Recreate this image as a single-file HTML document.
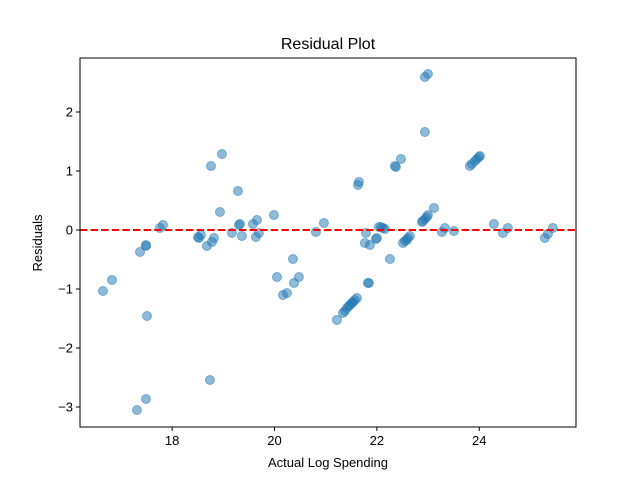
<!DOCTYPE html>
<html><head><meta charset="utf-8"><style>
body{margin:0;background:#fff;font-family:"Liberation Sans","DejaVu Sans",sans-serif}
</style></head><body>
<svg id="chart" width="640" height="480" xmlns="http://www.w3.org/2000/svg">
<rect width="640" height="480" fill="#fff"/>
<text x="328" y="49" text-anchor="middle" font-size="16">Residual Plot</text>
<g id="pts"></g>
<g id="axes"></g>
<text x="328" y="467" text-anchor="middle" font-size="13">Actual Log Spending</text>
<text transform="translate(42,243) rotate(-90)" text-anchor="middle" font-size="13">Residuals</text>
</svg>
<script>
const xTicks=[18,20,22,24];
const yTicks=[-3,-2,-1,0,1,2];
const pxPts=[[103,291],[112,280],[147,316],[140,252],[146,246],[146,245],[160,228],[163,225],[137,410],[146,399],[210,380],[198,237],[199,238],[201,235],[207,246],[212,242],[214,238],[211,166],[222,154],[220,212],[238,191],[232,233],[239,225],[240,224],[242,236],[253,224],[257,220],[256,237],[259,233],[274,215],[293,259],[277,277],[299,277],[294,283],[283,295],[287,293],[316,232],[324,223],[337,320],[343,313],[345,311],[347,308],[349,306],[350,305],[352,303],[353,302],[355,300],[357,298],[358,185],[359,182],[366,233],[365,243],[370,245],[376,239],[369,283],[368,283],[377,238],[379,227],[381,227],[383,228],[385,229],[390,259],[396,167],[395,166],[401,159],[403,243],[405,241],[407,240],[408,238],[410,236],[422,222],[423,221],[425,219],[427,217],[428,215],[434,208],[425,77],[428,74],[425,132],[442,232],[445,228],[454,231],[470,166],[472,164],[475,161],[477,159],[479,157],[480,156],[494,224],[503,233],[508,228],[545,238],[548,234],[553,228]];
const xs=pxPts.map(p=>+(16.2+(p[0]-80)/51.2).toFixed(3));
const ys=pxPts.map(p=>+((230-p[1])/59).toFixed(3));
const L=80,R=576,T=58,B=427;
const xmin=16.2,xmax=25.89,ymin=-3.339,ymax=2.915;
const sx=v=>L+(v-xmin)/(xmax-xmin)*(R-L);
const sy=v=>B-(v-ymin)/(ymax-ymin)*(B-T);
const NS="http://www.w3.org/2000/svg";
const g=document.getElementById('pts');
for(let i=0;i<xs.length;i++){
 const c=document.createElementNS(NS,'circle');
 c.setAttribute('cx',sx(xs[i]));c.setAttribute('cy',sy(ys[i]));c.setAttribute('r',4.5);
 c.setAttribute('fill','#1f77b4');c.setAttribute('fill-opacity','0.5');
 c.setAttribute('stroke','#1f77b4');c.setAttribute('stroke-opacity','0.5');c.setAttribute('stroke-width','1');
 
 
 g.appendChild(c);
}
const a=document.getElementById('axes');
const ln=document.createElementNS(NS,'line');
ln.setAttribute('x1',L);ln.setAttribute('x2',R);ln.setAttribute('y1',sy(0));ln.setAttribute('y2',sy(0));
ln.setAttribute('stroke','#ff0000');ln.setAttribute('stroke-width','2');ln.setAttribute('stroke-dasharray','7.4,3.2');


a.appendChild(ln);
const fr=document.createElementNS(NS,'rect');
fr.setAttribute('x',L);fr.setAttribute('y',T);fr.setAttribute('width',R-L);fr.setAttribute('height',B-T);
fr.setAttribute('fill','none');fr.setAttribute('stroke','#000');fr.setAttribute('stroke-width','1');


a.appendChild(fr);
xTicks.forEach(t=>{
 const x=sx(t);
 const tk=document.createElementNS(NS,'line');
 tk.setAttribute('x1',x);tk.setAttribute('x2',x);tk.setAttribute('y1',B);tk.setAttribute('y2',B+4);tk.setAttribute('stroke','#000');
 
 
 a.appendChild(tk);
 const tx=document.createElementNS(NS,'text');
 tx.setAttribute('x',x);tx.setAttribute('y',B+18);tx.setAttribute('text-anchor','middle');tx.setAttribute('font-size','13');
 tx.textContent=t;
 
 
 a.appendChild(tx);
});
yTicks.forEach(t=>{
 const y=sy(t);
 const tk=document.createElementNS(NS,'line');
 tk.setAttribute('x1',L-4);tk.setAttribute('x2',L);tk.setAttribute('y1',y);tk.setAttribute('y2',y);tk.setAttribute('stroke','#000');
 
 
 a.appendChild(tk);
 const tx=document.createElementNS(NS,'text');
 tx.setAttribute('x',L-7);tx.setAttribute('y',y+4.5);tx.setAttribute('text-anchor','end');tx.setAttribute('font-size','13');
 tx.textContent=t<0?'\u2212'+(-t):t;
 
 
 a.appendChild(tx);
});
</script>
</body></html>
